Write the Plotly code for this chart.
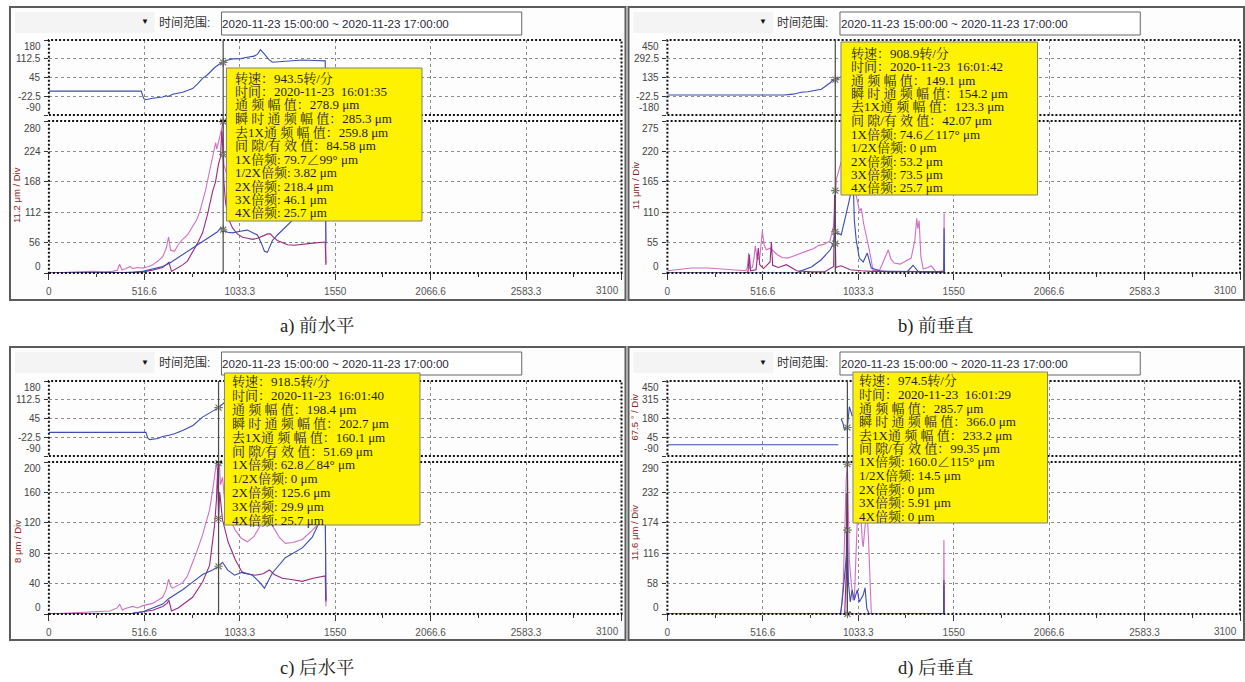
import plotly.graph_objects as go

W, H = 1245, 682

# ---------------------------------------------------------------- axes
X_RANGE = [0, 3100]
X_TICKS = [0, 516.6, 1033.3, 1550, 2066.6, 2583.3, 3100]
X_MINOR = [258.3, 775, 1291.7, 1808.3, 2325, 2841.7]

A_PHASE_TICKS = [180, 112.5, 45, -22.5, -90]
A_AMP_TICKS = [280, 224, 168, 112, 56, 0]
B_PHASE_TICKS = [450, 292.5, 135, -22.5, -180]
B_AMP_TICKS = [275, 220, 165, 110, 55, 0]
C_PHASE_TICKS = [180, 112.5, 45, -22.5, -90]
C_AMP_TICKS = [200, 160, 120, 80, 40, 0]
D_PHASE_TICKS = [450, 315, 180, 45, -90]
D_AMP_TICKS = [290, 232, 174, 116, 58, 0]

TIME_RANGE = "2020-11-23 15:00:00 ~ 2020-11-23 17:00:00"

# ---------------------------------------------------------------- a) 前水平
A_PHASE_RPM = [0, 500, 513, 524, 562, 600, 616, 635, 643, 670, 700, 724, 750, 778, 805, 832, 859, 880, 896, 920,
               943.5, 970, 994, 1040, 1075, 1110, 1129, 1145, 1166, 1190, 1210, 1250, 1291, 1330, 1372, 1440, 1496, 1500]
A_PHASE = [-4, -4, -30, -35, -30, -27, -25, -20, -24, -15, -12, -8, -2, 5, 22, 42, 55, 70, 80, 92,
           99, 108, 112, 113, 118, 122, 128, 145, 130, 110, 100, 102, 104, 106, 108, 106, 105, -300]
A_OVERALL_RPM = [0, 76, 150, 238, 300, 346, 370, 383, 395, 416, 440, 454, 480, 508, 540, 562, 590, 616, 635, 648,
                 659, 680, 700, 724, 750, 778, 800, 816, 835, 848, 862, 875, 886, 896, 903, 909, 915, 922, 930, 943.5,
                 947, 960, 1000, 1050, 1100, 1150, 1200, 1250, 1300, 1350, 1400, 1450, 1496, 1500]
A_OVERALL = [0, 1, 2, 3, 2, 3, 5, 16, 6, 8, 12, 8, 10, 9, 12, 15, 22, 30, 45, 66,
             42, 40, 52, 62, 70, 85, 98, 112, 135, 152, 175, 196, 215, 232, 240, 228, 236, 244, 258, 278.9,
             200, 185, 175, 178, 182, 170, 175, 185, 192, 200, 205, 212, 220, 18]
A_2X_RPM = [0, 200, 400, 508, 560, 616, 640, 650, 664, 690, 724, 750, 778, 805, 832, 860, 886, 902, 918, 929,
            936, 943.5, 947, 956, 972, 994, 1020, 1048, 1075, 1102, 1130, 1156, 1185, 1199, 1215, 1237, 1260, 1291,
            1330, 1372, 1430, 1496, 1500]
A_2X = [0, 0, 1, 2, 5, 10, 16, 20, 3, 8, 15, 22, 38, 55, 74, 110, 150, 168, 200, 214,
        262, 218.4, 170, 131, 100, 83, 72, 66, 64, 62, 64, 68, 72, 72, 66, 60, 56, 52,
        51, 53, 55, 57, 15]
A_1X_RPM = [0, 400, 454, 508, 562, 616, 653, 697, 740, 778, 805, 832, 860, 886, 913, 929, 943.5, 967, 994, 1015,
            1037, 1075, 1110, 1129, 1150, 1167, 1183, 1200, 1210, 1237, 1264, 1291, 1318, 1372, 1426, 1496, 1500]
A_1X = [0, 0, 1, 3, 7, 12, 18, 28, 37, 45, 52, 58, 64, 70, 76, 83, 79.7, 75, 74, 76,
        77, 79, 74, 70, 55, 40, 38, 52, 60, 70, 79, 88, 98, 115, 135, 160, 55]
A_READOUT = ["943.5", "2020-11-23  16:01:35", "278.9", "285.3", "259.8", "84.58",
             "79.7", "99", "3.82", "218.4", "46.1", "25.7"]

# ---------------------------------------------------------------- b) 前垂直
B_PHASE_RPM = [0, 633, 680, 725, 760, 790, 810, 833, 850, 876, 885, 893, 898, 908.9, 950, 1050, 1200, 1350, 1496, 1500]
B_PHASE = [-12, -12, -5, 11, 15, 25, 30, 36, 55, 89, 95, 114, 108, 117, 150, 165, 180, 190, 200, -400]
B_OVERALL_RPM = [0, 60, 130, 220, 300, 380, 425, 433, 440, 446, 460, 470, 476, 487, 500, 514, 524, 536, 557, 568,
                 595, 622, 650, 676, 698, 720, 757, 790, 820, 850, 880, 900, 908.9, 915, 940, 980, 1010, 1030, 1040,
                 1050, 1062, 1093, 1114, 1150, 1180, 1196, 1210, 1228, 1260, 1290, 1320, 1340, 1350, 1356, 1363,
                 1372, 1385, 1410, 1428, 1455, 1480, 1496, 1498, 1500]
B_OVERALL = [4, 6, 9, 9, 7, 4, 4, 10, 36, 8, 10, 30, 49, 24, 28, 76, 50, 42, 45, 42,
             33, 28, 27, 30, 33, 36, 40, 44, 50, 52, 58, 85, 149.1, 170, 200, 190, 160, 130, 112,
             117, 90, 42, 4, 6, 30, 42, 25, 18, 16, 22, 27, 60, 99, 80, 95,
             30, 7, 10, 13, 2, 3, 4, 108, 0]
B_2X_RPM = [0, 420, 436, 444, 450, 480, 492, 500, 520, 556, 563, 570, 600, 644, 700, 780, 850, 887, 900, 905,
            908.9, 912, 940, 990, 1050, 1100, 1200, 1300, 1400, 1500]
B_2X = [0, 0, 2, 33, 4, 6, 45, 15, 8, 20, 56, 14, 10, 15, 4, 2, 2, 9, 12, 141,
        53.2, 10, 13, 6, 4, 3, 3, 3, 2, 2]
B_1X_RPM = [0, 700, 725, 780, 833, 860, 882, 900, 908.9, 941, 968, 985, 995, 1003, 1008, 1012, 1022, 1039, 1060,
            1082, 1104, 1150, 1200, 1300, 1330, 1360, 1496, 1498, 1500]
B_1X = [0, 0, 4, 11, 24, 33, 42, 55, 74.6, 69, 105, 132, 150, 175, 140, 96, 60, 27, 20,
        36, 9, 4, 2, 3, 14, 2, 2, 81, 0]
B_READOUT = ["908.9", "2020-11-23  16:01:42", "149.1", "154.2", "123.3", "42.07",
             "74.6", "117", "0", "53.2", "73.5", "25.7"]

# ---------------------------------------------------------------- c) 后水平
C_PHASE_RPM = [0, 525, 535, 546, 590, 616, 650, 680, 724, 780, 832, 880, 918.5, 951, 1000, 1100, 1200, 1300, 1400,
               1496, 1500]
C_PHASE = [-5, -5, -25, -31, -27, -20, -15, -10, 2, 20, 50, 70, 84, 103, 108, 112, 110, 108, 107, 106, -300]
C_OVERALL_RPM = [0, 100, 238, 330, 370, 383, 398, 410, 454, 480, 508, 562, 590, 616, 635, 648, 660, 670, 700, 724,
                 750, 778, 805, 832, 850, 870, 885, 897, 907, 912, 918.5, 922, 929, 940, 951, 980, 1010, 1040, 1075,
                 1110, 1140, 1160, 1183, 1220, 1250, 1280, 1320, 1372, 1426, 1453, 1496, 1500]
C_OVERALL = [0, 1, 3, 4, 8, 13, 5, 7, 10, 8, 11, 14, 18, 22, 32, 46, 36, 34, 38, 41,
             50, 67, 85, 104, 120, 137, 160, 183, 199, 190, 198.4, 202, 170, 180, 150, 125, 110, 100, 95,
             102, 114, 125, 130, 112, 100, 93, 94, 98, 110, 117, 140, 10]
C_2X_RPM = [0, 300, 454, 508, 562, 616, 640, 650, 664, 700, 724, 778, 832, 870, 897, 907, 914, 918.5, 925, 940,
            970, 1010, 1048, 1118, 1160, 1194, 1220, 1264, 1320, 1372, 1430, 1480, 1496, 1500]
C_2X = [0, 0, 1, 3, 5, 10, 14, 18, 4, 8, 12, 22, 42, 64, 117, 150, 192, 125.6, 160, 124,
        95, 71, 54, 51, 53, 58, 52, 47, 45, 43, 47, 50, 50, 16]
C_1X_RPM = [0, 350, 454, 508, 562, 616, 648, 724, 778, 832, 886, 918.5, 940, 967, 1005, 1048, 1102, 1140, 1167,
            1210, 1280, 1372, 1426, 1470, 1496, 1500]
C_1X = [0, 0, 1, 3, 8, 13, 20, 32, 42, 52, 58, 62.8, 68, 58, 51, 55, 51, 42, 34,
        54, 74, 87, 101, 124, 140, 18]
C_READOUT = ["918.5", "2020-11-23  16:01:40", "198.4", "202.7", "160.1", "51.69",
             "62.8", "84", "0", "125.6", "29.9", "25.7"]

# ---------------------------------------------------------------- d) 后垂直
D_PHASE_RPM = [0, 925, None, 941, 950, 958, 966, 974.5, 985, 1000, 1100, 1300, 1496, 1500]
D_PHASE = [-9, -9, None, 177, 150, 100, 110, 115, 265, 200, 210, 220, 220, -300]
D_OVERALL_RPM = [0, 930, 940, 952, 962, 968, 974.5, 979, 985, 995, 1005, 1012, 1020, 1028, 1035, 1045, 1055, 1060,
                 1068, 1080, 1088, 1093, 1100, 1104, 1495, 1497, 1499]
D_OVERALL = [0, 0, 2, 60, 180, 256, 285.7, 200, 103, 60, 27, 27, 120, 179, 237, 200, 141, 128,
             160, 200, 150, 103, 30, 0, 0, 141, 0]
D_2X_RPM = [0, 960, 968, 971, 973, 974.5, 990, 1000, 1496, 1497, 1498]
D_2X = [0, 0, 78, 231, 78, 0, 3, 0, 0, 65, 0]
D_1X_RPM = [0, 936, 945, 952, 963, 970, 974.5, 980, 990, 1000, 1012, 1028, 1039, 1060, 1070, 1080, 1093, 1496,
            1497, 1498]
D_1X = [0, 0, 20, 46, 74, 113, 160.0, 60, 23, 46, 27, 46, 23, 36, 50, 10, 0, 0, 55, 0]
D_READOUT = ["974.5", "2020-11-23  16:01:29", "285.7", "366.0", "233.2", "99.35",
             "160.0", "115", "14.5", "0", "5.91", "0"]

CAPTIONS = ["a) 前水平", "b) 前垂直", "c) 后水平", "d) 后垂直"]

# ---------------------------------------------------------------- styling
BLUE = "#3b4db0"
PINK = "#d070c4"
MAGENTA = "#9a2a84"
GRID = "#8c8c8c"
YELLOW = "#fff200"
MARK = "#6d6d6d"
SANS = "Liberation Sans, Arial, Noto Sans CJK SC, sans-serif"
SERIF = "Liberation Serif, Times New Roman, Noto Serif CJK SC, Noto Sans CJK SC, serif"
TITLE_RED = "#8b2222"

PANELS = [
    dict(ox=0, oy=0, fy0=0,
         phase=(A_PHASE_RPM, A_PHASE), overall=(A_OVERALL_RPM, A_OVERALL),
         h2=(A_2X_RPM, A_2X), h1=(A_1X_RPM, A_1X), readout=A_READOUT,
         pticks=A_PHASE_TICKS, aticks=A_AMP_TICKS,
         tip=(224, 68, 420, 221), tip_text=(234, 78, 13.5),
         titles=[("11.2 μm / Div", 14, 195)], cap=(315, 326)),
    dict(ox=620, oy=0, fy0=0,
         phase=(B_PHASE_RPM, B_PHASE), overall=(B_OVERALL_RPM, B_OVERALL),
         h2=(B_2X_RPM, B_2X), h1=(B_1X_RPM, B_1X), readout=B_READOUT,
         pticks=B_PHASE_TICKS, aticks=B_AMP_TICKS,
         tip=(840, 42, 1037, 195), tip_text=(851, 53, 13.5),
         titles=[("11 μm / Div", 634, 185)], cap=(935, 326)),
    dict(ox=0, oy=341, fy0=340,
         phase=(C_PHASE_RPM, C_PHASE), overall=(C_OVERALL_RPM, C_OVERALL),
         h2=(C_2X_RPM, C_2X), h1=(C_1X_RPM, C_1X), readout=C_READOUT,
         pticks=C_PHASE_TICKS, aticks=C_AMP_TICKS,
         tip=(222, 373, 418, 525), tip_text=(231, 382, 13.8),
         titles=[("8 μm / Div", 14, 541)], cap=(315, 668)),
    dict(ox=620, oy=341, fy0=340,
         phase=(D_PHASE_RPM, D_PHASE), overall=(D_OVERALL_RPM, D_OVERALL),
         h2=(D_2X_RPM, D_2X), h1=(D_1X_RPM, D_1X), readout=D_READOUT,
         pticks=D_PHASE_TICKS, aticks=D_AMP_TICKS,
         tip=(852, 372, 1047, 523), tip_text=(859, 381, 13.5),
         titles=[("67.5 ° / Div", 633, 417), ("11.6 μm / Div", 633, 532)], cap=(935, 668)),
]


def fx(px):
    return px / W


def fy(py):
    return 1 - py / H


def label(x, y, text, font, xanchor="center", **kw):
    d = dict(x=x, y=y, xref="paper", yref="paper", text=text, showarrow=False,
             xanchor=xanchor, yanchor="middle", font=font)
    d.update(kw)
    return d


def spaced(word):
    # the readout widget letter-spaces its Chinese field names
    return " ".join(word)


def readout_lines(r):
    return [
        f"转速：{r[0]}转/分",
        f"时间：{r[1]}",
        f"{spaced('通频幅值')}：{r[2]} μm",
        f"{spaced('瞬时通频幅值')}：{r[3]} μm",
        f"去1X{spaced('通频幅值')}：{r[4]} μm",
        f"间 隙/有 效 值：{r[5]} μm",
        f"1X倍频: {r[6]}∠{r[7]}° μm",
        f"1/2X倍频: {r[8]} μm",
        f"2X倍频: {r[9]} μm",
        f"3X倍频: {r[10]} μm",
        f"4X倍频: {r[11]} μm",
    ]


fig = go.Figure()
layout = {}
shapes = []
annos = []

# panel backgrounds and headers
for p in PANELS:
    ox, oy = p["ox"], p["fy0"]
    shapes.append(dict(type="rect", xref="paper", yref="paper", layer="below",
                       x0=fx(7 + ox), x1=fx(624 + ox), y0=fy(300 + oy), y1=fy(7 + oy),
                       fillcolor="#fdfdfd", line=dict(color="#5c5c5c", width=2)))
    shapes.append(dict(type="rect", xref="paper", yref="paper", layer="below",
                       x0=fx(12 + ox), x1=fx(152 + ox), y0=fy(33 + oy), y1=fy(12 + oy),
                       fillcolor="#f4f4f4", line=dict(width=0)))
    shapes.append(dict(type="rect", xref="paper", yref="paper", layer="below",
                       x0=fx(219 + ox), x1=fx(520 + ox), y0=fy(35 + oy), y1=fy(12 + oy),
                       fillcolor="#ffffff", line=dict(color="#666666", width=1)))
    annos.append(label(fx(142 + ox), fy(22 + oy), "▼", dict(family=SANS, size=8, color="#111")))
    annos.append(label(fx(157 + ox), fy(23 + oy), "时间范围:", dict(family=SANS, size=12, color="#333"),
                       xanchor="left", xshift=-3))
    annos.append(label(fx(221 + ox), fy(23.5 + oy), TIME_RANGE, dict(family=SANS, size=11.6, color="#2a2a3a"),
                       xanchor="left", xshift=-3))

for i, p in enumerate(PANELS):
    ox, oy = p["ox"], p["oy"]
    rpm_cur = float(p["readout"][0])
    upper = (2 * i + 1, 40 + oy, 115 + oy, p["pticks"], False)
    lower = (2 * i + 2, 121 + oy, 273 + oy, p["aticks"], True)
    ids = {}
    for n, top, bot, ticks, is_low in (upper, lower):
        xid = "x" if n == 1 else f"x{n}"
        yid = "y" if n == 1 else f"y{n}"
        ids[is_low] = (xid, yid)
        xa = dict(domain=[fx(46 + ox), fx(620 + ox)], range=X_RANGE, anchor=yid,
                  tickvals=X_TICKS, ticktext=[f"{v:g}" for v in X_TICKS[:-1]] + [""],
                  showticklabels=is_low, ticks="outside" if is_low else "",
                  ticklen=6, tickwidth=1, tickcolor="#333",
                  tickfont=dict(family=SANS, size=10, color="#555"),
                  showgrid=True, gridcolor=GRID, gridwidth=1, griddash="3px,3px",
                  zeroline=False, showline=False, fixedrange=True)
        if is_low:
            xa["minor"] = dict(tickmode="array", tickvals=X_MINOR, ticks="outside", ticklen=3,
                               tickcolor="#333", showgrid=False)
            xa["ticklabelstandoff"] = 3
        ya = dict(domain=[fy(bot), fy(top)], range=[min(ticks), max(ticks)], anchor=xid,
                  tickvals=ticks, showticklabels=False, ticks="outside", ticklen=4,
                  tickcolor="#333", showgrid=True, gridcolor=GRID, gridwidth=1,
                  griddash="3px,3px", zeroline=False, showline=False, fixedrange=True)
        layout["xaxis" if n == 1 else f"xaxis{n}"] = xa
        layout["yaxis" if n == 1 else f"yaxis{n}"] = ya

        # y tick labels, the end ones nudged inside the frame
        for v in ticks:
            shift = -7 if v == max(ticks) else (7 if v == min(ticks) else 0)
            annos.append(dict(x=fx(46 + ox), xref="paper", xanchor="right", xshift=-6,
                              y=v, yref=yid, yanchor="middle", yshift=shift,
                              text=f"{v:g}", showarrow=False,
                              font=dict(family=SANS, size=10, color="#444")))
        # dotted frame
        shapes.append(dict(type="rect", xref=f"{xid} domain", yref=f"{yid} domain",
                           x0=0, x1=1, y0=0, y1=1, layer="above",
                           line=dict(color="#111", width=2, dash="2px,2px")))

    # last x label kept inside the frame
    xl, yl = ids[True]
    annos.append(dict(x=X_TICKS[-1], xref=xl, xanchor="right", xshift=-1,
                      y=fy(290 + oy), yref="paper", yanchor="middle",
                      text=f"{X_TICKS[-1]:g}", showarrow=False,
                      font=dict(family=SANS, size=10, color="#555")))

    xu, yu = ids[False]
    # phase trend
    fig.add_trace(go.Scatter(x=p["phase"][0], y=p["phase"][1], mode="lines", xaxis=xu, yaxis=yu,
                             line=dict(color=BLUE, width=1.1), hoverinfo="skip", connectgaps=False))
    # amplitude trends
    for (xs, ys), col in ((p["overall"], PINK), (p["h2"], MAGENTA), (p["h1"], BLUE)):
        fig.add_trace(go.Scatter(x=xs, y=ys, mode="lines", xaxis=xl, yaxis=yl,
                                 line=dict(color=col, width=1.1), hoverinfo="skip"))

    # cursor line through both plots
    shapes.append(dict(type="line", xref=xl, yref="paper", x0=rpm_cur, x1=rpm_cur,
                       y0=fy(273 + oy), y1=fy(40 + oy), layer="above",
                       line=dict(color="#4a4a4a", width=1.2)))

    # cursor readout markers
    r = p["readout"]
    amp_pts = [float(r[2]), float(r[6]), float(r[9])]
    for xa_, ya_, vals in ((xu, yu, [float(r[7])]), (xl, yl, amp_pts)):
        fig.add_trace(go.Scatter(x=[rpm_cur] * len(vals), y=vals, mode="markers", xaxis=xa_, yaxis=ya_,
                                 marker=dict(symbol="asterisk-open", size=7, color=MARK,
                                             line=dict(color=MARK, width=1.1)),
                                 hoverinfo="skip", cliponaxis=False))
        fig.add_trace(go.Scatter(x=[rpm_cur] * len(vals), y=vals, mode="markers", xaxis=xa_, yaxis=ya_,
                                 marker=dict(symbol="circle", size=2.5, color="#c8d840"),
                                 hoverinfo="skip", cliponaxis=False))

    # readout box
    bx0, by0, bx1, by1 = p["tip"]
    shapes.append(dict(type="rect", xref="paper", yref="paper", layer="above",
                       x0=fx(bx0), x1=fx(bx1), y0=fy(by1), y1=fy(by0),
                       fillcolor=YELLOW, line=dict(color="#808080", width=1)))
    tx, ty, step = p["tip_text"]
    for k, line_txt in enumerate(readout_lines(r)):
        annos.append(label(fx(tx), fy(ty + k * step), line_txt,
                           dict(family=SERIF, size=13, color="#1e1e1e"), xanchor="left", xshift=-3))

    # axis unit titles
    for txt, tx_, ty_ in p["titles"]:
        annos.append(label(fx(tx_), fy(ty_), txt, dict(family=SANS, size=9.5, color=TITLE_RED),
                           textangle=-90))

    # caption under the panel
    cx, cy = p["cap"]
    annos.append(label(fx(cx), fy(cy), CAPTIONS[i], dict(family=SERIF, size=18.5, color="#222")))

fig.update_layout(width=W, height=H, margin=dict(l=0, r=0, t=0, b=0),
                  paper_bgcolor="#ffffff", plot_bgcolor="rgba(0,0,0,0)",
                  showlegend=False, shapes=shapes, annotations=annos, **layout)

fig.write_html("out.html", config={"displayModeBar": False, "staticPlot": True})
